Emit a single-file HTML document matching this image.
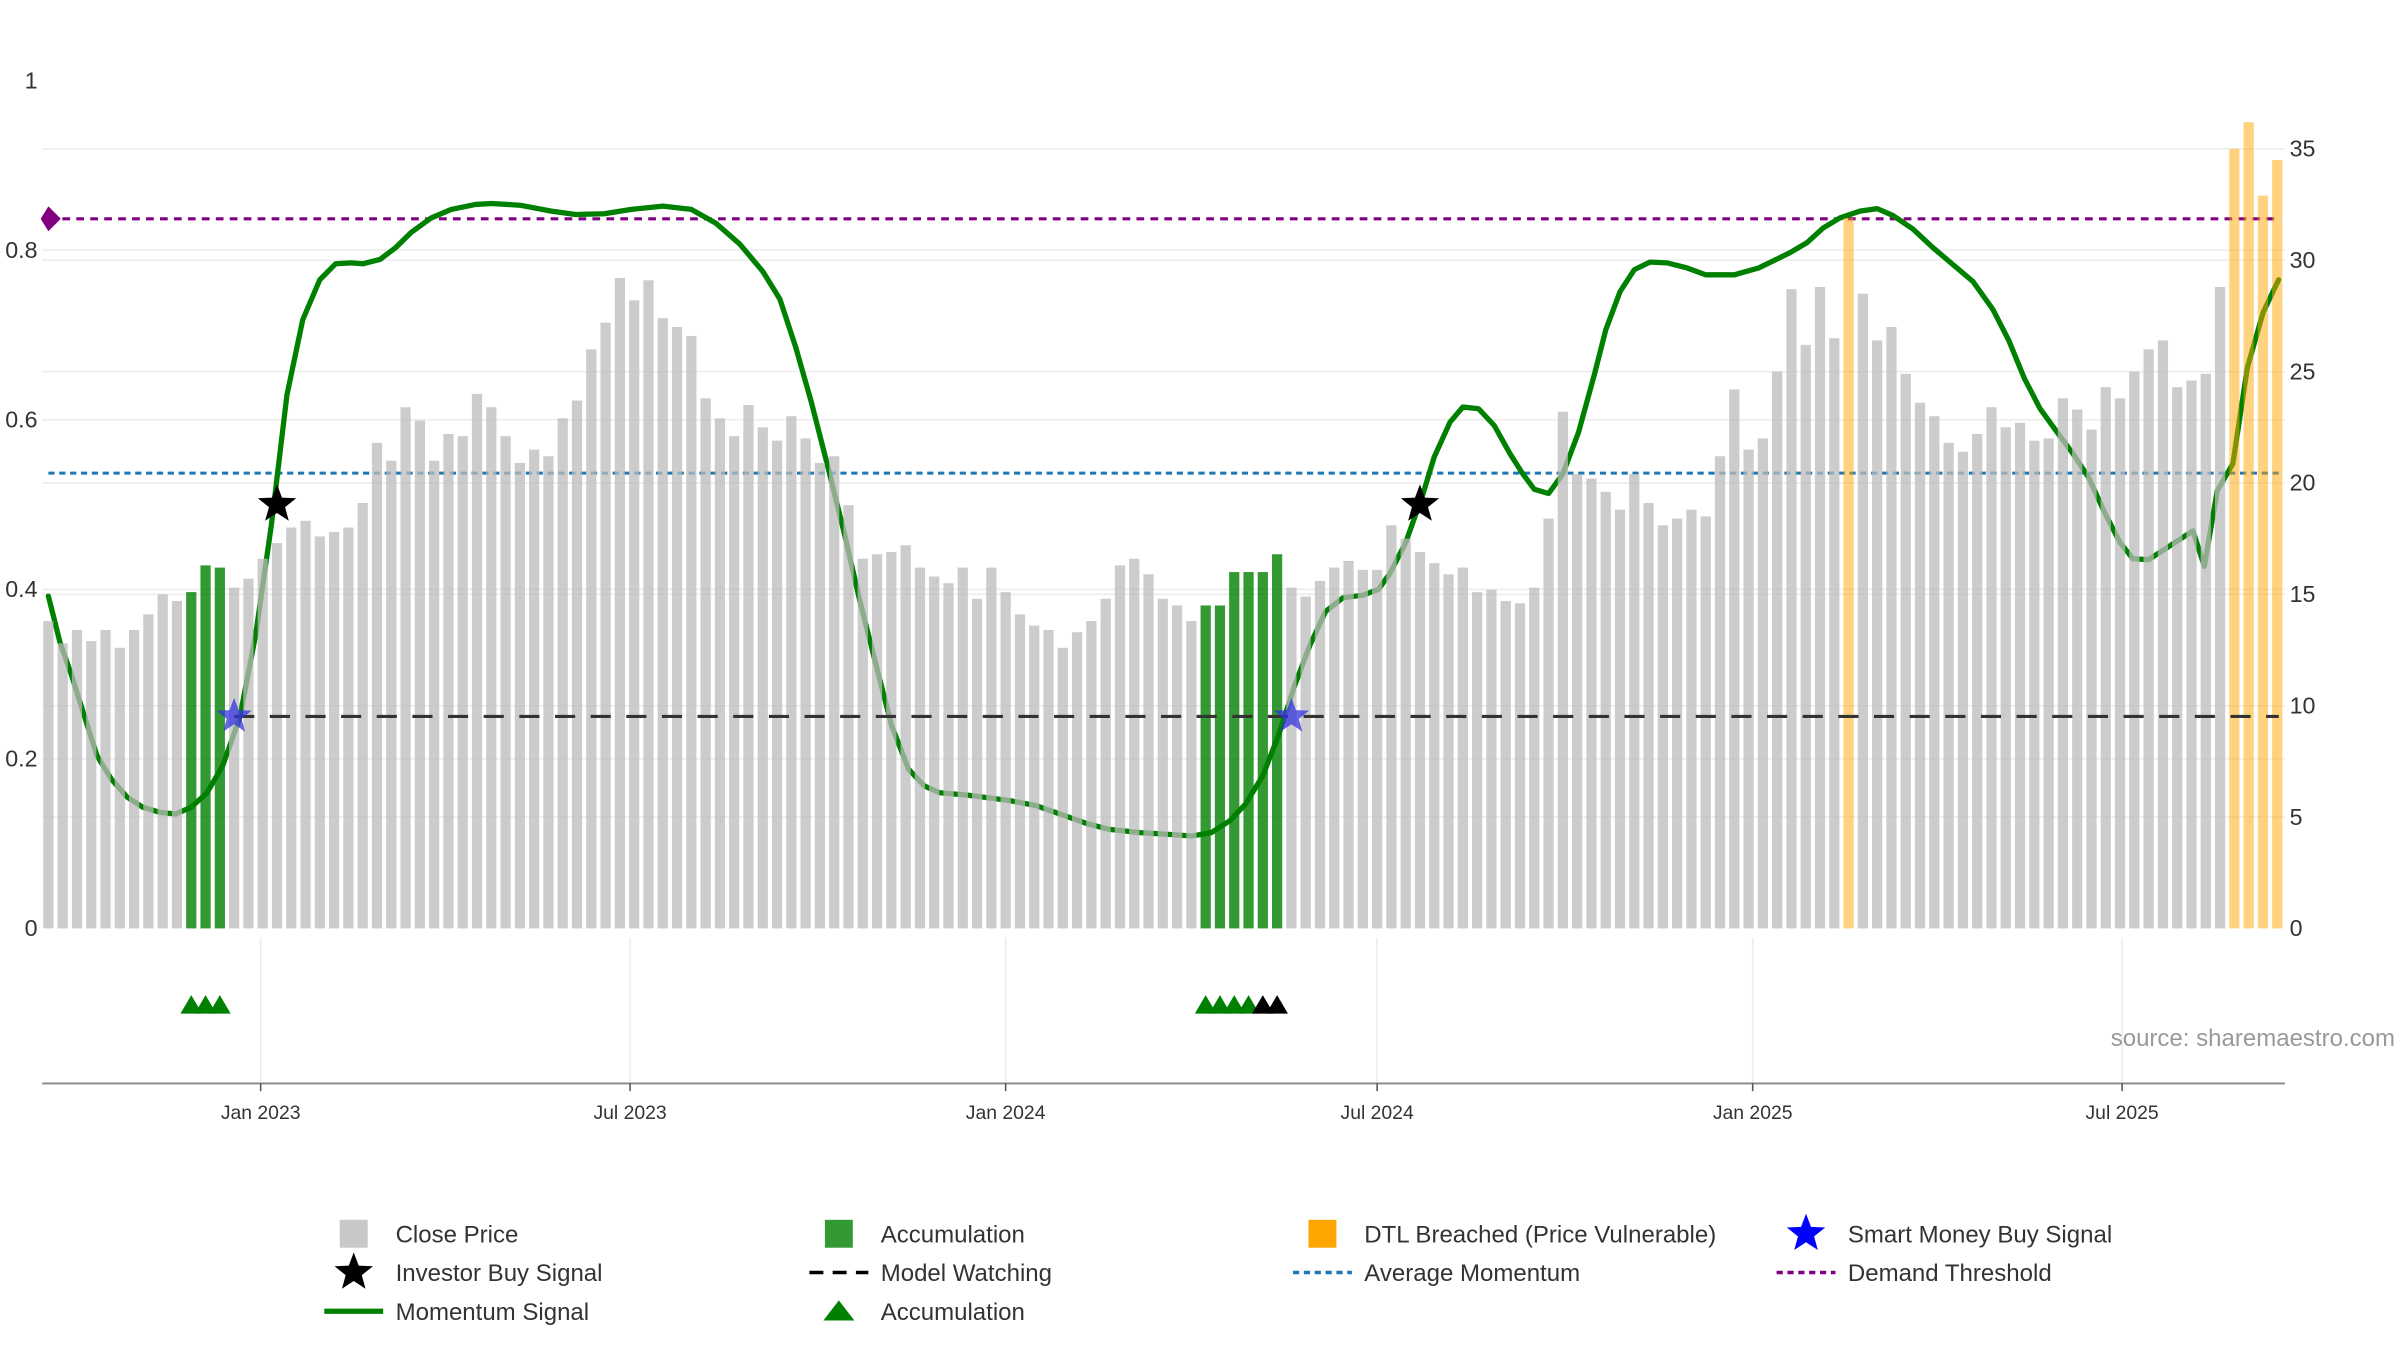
<!DOCTYPE html>
<html><head><meta charset="utf-8">
<style>
html,body{margin:0;padding:0;background:#fff;}
svg{display:block;font-family:"Liberation Sans","DejaVu Sans",sans-serif;}
</style></head>
<body>
<svg id="chart" width="2400" height="1350" viewBox="0 0 1548 871" xmlns="http://www.w3.org/2000/svg">
<g id="grid"></g>
<g id="lines"></g>
<g id="momentum"></g>
<g id="bars"></g>
<g id="overlay"></g>
<g id="axes"></g>
<text x="1545" y="675" text-anchor="end" font-size="15.5" fill="#999">source: sharemaestro.com</text>
<g id="legend"></g>
</svg>
<script>
const closePrice = [13.8,12.8,13.4,12.9,13.4,12.6,13.4,14.1,15.0,14.7,15.1,16.3,16.2,15.3,15.7,16.6,17.3,18.0,18.3,17.6,17.8,18.0,19.1,21.8,21.0,23.4,22.8,21.0,22.2,22.1,24.0,23.4,22.1,20.9,21.5,21.2,22.9,23.7,26.0,27.2,29.2,28.2,29.1,27.4,27.0,26.6,23.8,22.9,22.1,23.5,22.5,21.9,23.0,22.0,20.9,21.2,19.0,16.6,16.8,16.9,17.2,16.2,15.8,15.5,16.2,14.8,16.2,15.1,14.1,13.6,13.4,12.6,13.3,13.8,14.8,16.3,16.6,15.9,14.8,14.5,13.8,14.5,14.5,16.0,16.0,16.0,16.8,15.3,14.9,15.6,16.2,16.5,16.1,16.1,18.1,17.5,16.9,16.4,15.9,16.2,15.1,15.2,14.7,14.6,15.3,18.4,23.2,20.4,20.2,19.6,18.8,20.4,19.1,18.1,18.4,18.8,18.5,21.2,24.2,21.5,22.0,25.0,28.7,26.2,28.8,26.5,31.9,28.5,26.4,27.0,24.9,23.6,23.0,21.8,21.4,22.2,23.4,22.5,22.7,21.9,22.0,23.8,23.3,22.4,24.3,23.8,25.0,26.0,26.4,24.3,24.6,24.9,28.8,35.0,36.2,32.9,34.5];
const accumulationWeeks = [10,11,12,81,82,83,84,85,86];
const dtlWeeks = [126,153,154,155,156];
const momentumWeek = [1,1.8,2.6,3.4,4.4,5.4,6.5,7.6,8.8,9.9,11,12.1,13.2,14.4,15.5,16.6,17.7,18.8,20,21.1,22.2,23,24.2,25.3,26.4,27.8,29.2,30.9,32,34,36.2,37.9,39.9,41.8,44,46,47.7,49.4,51,52.2,53.3,54.4,55.5,56.7,57.8,58.9,60,61.2,62.3,63.4,65.4,68.2,70.1,71.8,73.8,75.2,77.4,79.4,81,82.4,83.7,84.8,86,87.1,88.2,89.3,90.4,91.6,93,94.1,94.9,96,97.2,98,99.1,100,101.1,102.2,103.3,104.2,105,106,107,108.1,109.2,110,111,112,113.1,114.3,115.7,117,119,120.7,122.9,124.1,125.2,126.4,127.8,129,130.1,131.5,132.9,134.3,135.7,137.1,138.2,139.3,140.4,141.6,142.7,143.8,144.9,146,146.9,148,149.1,150.2,151.1,151.9,152.8,153.9,154.9,156,157.1];
const momentumValue = [.392,.338,.30,.257,.204,.176,.155,.143,.137,.135,.143,.16,.192,.249,.346,.475,.629,.718,.765,.784,.785,.784,.789,.803,.821,.838,.848,.854,.855,.853,.846,.842,.843,.848,.852,.848,.832,.807,.775,.742,.686,.621,.548,.467,.386,.313,.24,.188,.168,.16,.157,.151,.145,.135,.123,.117,.113,.111,.109,.113,.127,.147,.18,.228,.285,.334,.374,.39,.393,.40,.419,.455,.512,.556,.597,.615,.613,.593,.56,.536,.518,.513,.536,.585,.653,.706,.751,.777,.786,.785,.779,.771,.771,.779,.797,.809,.826,.838,.846,.849,.841,.825,.803,.783,.763,.73,.694,.649,.613,.585,.56,.532,.491,.455,.436,.435,.447,.459,.469,.427,.516,.548,.661,.726,.765];
const demandThreshold = 0.837;
const averageMomentum = 0.537;
const modelWatching = 0.25;
const investorBuyWeeks = [16,96];
const investorBuyValues = [0.5,0.5];
const smartMoneyWeeks = [13,87];
const smartMoneyValues = [0.25,0.25];
const accTriGreen = [10,11,12,81,82,83,84];
const accTriBlack = [85,86];
const leftTicks = [0,0.2,0.4,0.6,0.8,1];
const leftTickLabels = ["0","0.2","0.4","0.6","0.8","1"];
const rightTicks = [0,5,10,15,20,25,30,35];
const dateTicks = ["2023-01-01","2023-07-01","2024-01-01","2024-07-01","2025-01-01","2025-07-01"];
const dateTickLabels = ["Jan 2023","Jul 2023","Jan 2024","Jul 2024","Jan 2025","Jul 2025"];

const NS="http://www.w3.org/2000/svg";
function mk(tag,attrs,parent){const e=document.createElementNS(NS,tag);for(const k in attrs)e.setAttribute(k,attrs[k]);parent.appendChild(e);return e;}
const X0=31, STEP=9.218, BW=6.6;
const xW=i=>X0+i*STEP;
const yL=v=>599-v*547;
const yR=p=>599-p*14.37;
const startMs=Date.UTC(2022,8,19);
const xDate=s=>xW((Date.parse(s+"T00:00:00Z")-startMs)/(7*864e5));
const grid=document.getElementById('grid'),lines=document.getElementById('lines'),mom=document.getElementById('momentum'),bars=document.getElementById('bars'),ov=document.getElementById('overlay'),axes=document.getElementById('axes'),leg=document.getElementById('legend');

// gridlines
leftTicks.forEach(v=>{if(v>0&&v<1){const l=mk('line',{x1:27,x2:1474,y1:yL(v),y2:yL(v),stroke:'#ececec','stroke-width':1},grid);

}});
rightTicks.forEach(p=>{if(p>0){const l=mk('line',{x1:27,x2:1474,y1:yR(p),y2:yR(p),stroke:'#ececec','stroke-width':1},grid);

}});
dateTicks.forEach(d=>{const x=xDate(d);const l=mk('line',{x1:x,x2:x,y1:605,y2:699,stroke:'#ececec','stroke-width':1},grid);

});

// momentum line
let pts=momentumWeek.map((w,i)=>xW(w-1).toFixed(1)+','+yL(momentumValue[i]).toFixed(1)).join(' ');
const ml=mk('polyline',{points:pts,fill:'none',stroke:'#008000','stroke-width':3.4,'stroke-linejoin':'round','stroke-linecap':'round'},mom);



// bars
closePrice.forEach((p,i)=>{let fill='#bbbbbb',op=0.75,name='close-price-bar';
if(accumulationWeeks.includes(i)){fill='#008000';op=0.8;name='accumulation-bar';}
if(dtlWeeks.includes(i)){fill='#ffa500';op=0.5;name='dtl-breached-bar';}
const r=mk('rect',{x:xW(i)-BW/2,y:yR(p),width:BW,height:599-yR(p),fill:fill,'fill-opacity':op},bars);

});

// reference lines
const dl=mk('line',{x1:31,x2:1470,y1:yL(demandThreshold),y2:yL(demandThreshold),stroke:'#800080','stroke-width':2,'stroke-dasharray':'5,4'},lines);


const al=mk('line',{x1:31,x2:1470,y1:yL(averageMomentum),y2:yL(averageMomentum),stroke:'#1f77b4','stroke-width':2,'stroke-dasharray':'4,3'},lines);


const wl=mk('line',{x1:xW(13),x2:1470,y1:yL(modelWatching),y2:yL(modelWatching),stroke:'#333','stroke-width':2,'stroke-dasharray':'13,10'},ov);


const dm=mk('polygon',{points:`${X0-5},${yL(demandThreshold)} ${X0},${yL(demandThreshold)-8} ${X0+8},${yL(demandThreshold)} ${X0},${yL(demandThreshold)+8}`,fill:'#800080'},ov);



function starPts(cx,cy,R){const r=R*0.42;let a=[];for(let k=0;k<10;k++){const rr=k%2?r:R;const ang=-Math.PI/2+k*Math.PI/5;a.push((cx+rr*Math.cos(ang)).toFixed(1)+','+(cy+rr*Math.sin(ang)).toFixed(1));}return a.join(' ');}
smartMoneyWeeks.forEach((w,i)=>{const s=mk('polygon',{points:starPts(xW(w),yL(smartMoneyValues[i]),12),fill:'#3333dd','fill-opacity':0.75},ov);

});
investorBuyWeeks.forEach((w,i)=>{const s=mk('polygon',{points:starPts(xW(w),yL(investorBuyValues[i]),13),fill:'#000'},ov);

});
function tri(w,color){const x=xW(w),y=648;const t=mk('polygon',{points:`${x-7},${y+6} ${x},${y-6} ${x+7},${y+6}`,fill:color},ov);return t;}
accTriGreen.forEach(w=>{const t=tri(w,'#008000');

});
accTriBlack.forEach(w=>{const t=tri(w,'#000');

});

// axes
const xa=mk('line',{x1:27,x2:1474,y1:699,y2:699,stroke:'#888','stroke-width':1.2},axes);


dateTicks.forEach((d,i)=>{const x=xDate(d);
const tk=mk('line',{x1:x,x2:x,y1:699,y2:704,stroke:'#555','stroke-width':1},axes);


const t=mk('text',{x:x,y:722,'text-anchor':'middle','font-size':12.5,fill:'#333'},axes);t.textContent=dateTickLabels[i];

});
leftTicks.forEach((v,i)=>{const t=mk('text',{x:24,y:yL(v)+5,'text-anchor':'end','font-size':15,fill:'#333'},axes);t.textContent=leftTickLabels[i];

});
rightTicks.forEach(p=>{const t=mk('text',{x:1477,y:yR(p)+5,'text-anchor':'start','font-size':15,fill:'#333'},axes);t.textContent=String(p);

});

// legend
const legendItems=[
 [228,796,'sq','#c8c8c8','Close Price'],[541,796,'sq','#339933','Accumulation'],[853,796,'sq','#ffa500','DTL Breached (Price Vulnerable)'],[1165,796,'star','#0000ff','Smart Money Buy Signal'],
 [228,821,'star','#000','Investor Buy Signal'],[541,821,'dash','#000','Model Watching'],[853,821,'dot','#1f77b4','Average Momentum'],[1165,821,'dot','#800080','Demand Threshold'],
 [228,846,'line','#008000','Momentum Signal'],[541,846,'tri','#008000','Accumulation']];
legendItems.forEach(it=>{const [x,y,kind,c,label]=it;const g=mk('g',{},leg);


if(kind==='sq')mk('rect',{x:x-9,y:y-9,width:18,height:18,fill:c},g);
if(kind==='star')mk('polygon',{points:starPts(x,y,13),fill:c},g);
if(kind==='dash')mk('line',{x1:x-19,x2:x+19,y1:y,y2:y,stroke:c,'stroke-width':2.2,'stroke-dasharray':'9,6'},g);
if(kind==='dot')mk('line',{x1:x-19,x2:x+19,y1:y,y2:y,stroke:c,'stroke-width':2.2,'stroke-dasharray':'4,3'},g);
if(kind==='line')mk('line',{x1:x-19,x2:x+19,y1:y,y2:y,stroke:c,'stroke-width':3.4},g);
if(kind==='tri')mk('polygon',{points:`${x-10},${y+6} ${x},${y-7} ${x+10},${y+6}`,fill:c},g);
const t=mk('text',{x:x+27,y:y+5.5,'font-size':15.5,fill:'#333'},g);t.textContent=label;});
</script>
</body></html>
